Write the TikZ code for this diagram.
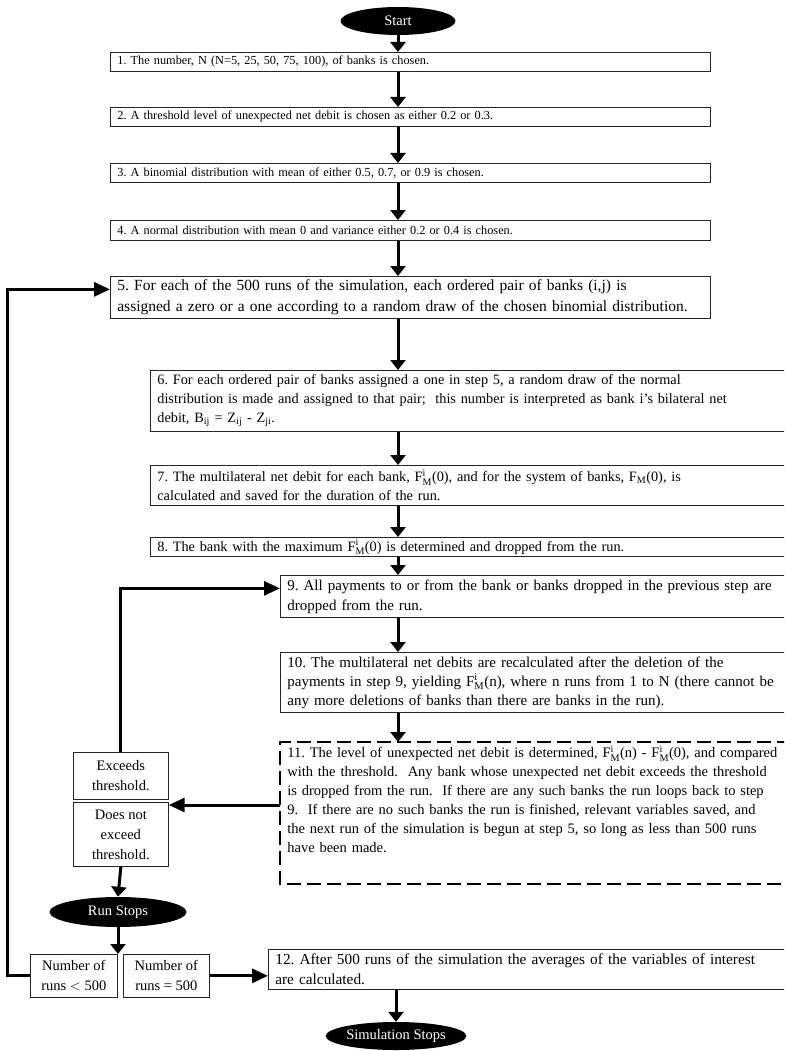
\documentclass[tikz,border=0pt]{standalone}
\usepackage{fontspec}
\setmainfont{Liberation Serif}
\usepackage{amsmath}
\usetikzlibrary{arrows.meta,calc,shapes.geometric}
\newcommand{\FMi}[1]{F$^{\text{i}}_{\text{M}}$(#1)}
\frenchspacing
\begin{document}
\begin{tikzpicture}[x=1pt,y=-1pt,
  box/.style={draw=black!85, line width=0.7pt, anchor=north west, inner xsep=7pt, inner ysep=2pt, align=left, font=\fontsize{14.3}{19}\selectfont},
  smallbox/.style={box, font=\fontsize{12.3}{14}\selectfont},
  sidebox/.style={draw=black!85, line width=0.7pt, anchor=north west, inner sep=1pt, align=center, font=\fontsize{14.5}{20}\selectfont},
  term/.style={ellipse, fill=black, text=white, inner sep=0pt, font=\fontsize{14.5}{16}\selectfont},
  arr/.style={line width=3pt, -{Triangle[width=15pt,length=10pt]}},
  looparr/.style={line width=3pt, -{Triangle[width=14pt,length=16pt]}},
  dashbox/.style={line width=1.2pt, dash pattern=on 14pt off 6pt}]
\useasboundingbox (0,0) rectangle (784,1051);
\clip (0,0) rectangle (784,1051);
\coordinate (ax) at (398,0);
% terminals
\node[term, minimum width=115pt, minimum height=28pt] (start) at (398,21) {Start};
\node[term, minimum width=137pt, minimum height=30pt] (rs) at (118,912) {Run Stops};
\node[term, minimum width=132pt, minimum height=28pt] (ss) at (396,1036) {Simulation Stops};
% main boxes
\node[smallbox, minimum width=600pt, minimum height=19pt, text width=586pt] (b1) at (110,52) {1. The number, N (N=5, 25, 50, 75, 100), of banks is chosen.};
\node[smallbox, minimum width=600pt, minimum height=19pt, text width=586pt] (b2) at (110,107) {2. A threshold level of unexpected net debit is chosen as either 0.2 or 0.3.};
\node[smallbox, minimum width=600pt, minimum height=19pt, text width=586pt] (b3) at (110,163) {3. A binomial distribution with mean of either 0.5, 0.7, or 0.9 is chosen.};
\node[smallbox, minimum width=600pt, minimum height=20pt, text width=586pt] (b4) at (110,220) {4. A normal distribution with mean 0 and variance either 0.2 or 0.4 is chosen.};
\node[box, minimum width=600pt, minimum height=42pt, text width=586pt, font=\fontsize{15.5}{21}\selectfont] (b5) at (110,276) {5. For each of the 500 runs of the simulation, each ordered pair of banks (i,j) is\\ assigned a zero or a one according to a random draw of the chosen binomial distribution.};
\node[box, minimum width=640pt, minimum height=61pt, text width=626pt] (b6) at (150,370) {6. For each ordered pair of banks assigned a one in step 5, a random draw of the normal\\ distribution is made and assigned to that pair;\ \ this number is interpreted as bank i's bilateral net\\ debit, B$_{\text{ij}}$ = Z$_{\text{ij}}$ - Z$_{\text{ji}}$.};
\node[box, minimum width=640pt, minimum height=40pt, text width=626pt] (b7) at (150,465) {7. The multilateral net debit for each bank, \FMi{0}, and for the system of banks, F$_{\text{M}}$(0), is\\ calculated and saved for the duration of the run.};
\node[box, minimum width=640pt, minimum height=19pt, text width=626pt] (b8) at (150,537) {8. The bank with the maximum \FMi{0} is determined and dropped from the run.};
\node[box, minimum width=510pt, minimum height=42pt, text width=496pt, font=\fontsize{15}{20}\selectfont] (b9) at (280,575) {9. All payments to or from the bank or banks dropped in the previous step are\\ dropped from the run.};
\node[box, minimum width=510pt, minimum height=60pt, text width=496pt, font=\fontsize{15}{19}\selectfont] (b10) at (280,652) {10. The multilateral net debits are recalculated after the deletion of the\\ payments in step 9, yielding \FMi{n}, where n runs from 1 to N (there cannot be\\ any more deletions of banks than there are banks in the run).};
\node[box, draw=none, inner ysep=3pt, minimum width=510pt, text width=496pt, font=\fontsize{14.5}{19}\selectfont] (b11) at (280,742) {11. The level of unexpected net debit is determined, \FMi{n} - \FMi{0}, and compared\\ with the threshold.\ \ Any bank whose unexpected net debit exceeds the threshold\\ is dropped from the run.\ \ If there are any such banks the run loops back to step\\ 9.\ \ If there are no such banks the run is finished, relevant variables saved, and\\ the next run of the simulation is begun at step 5, so long as less than 500 runs\\ have been made.};
\draw[dashbox] (b11.north east) -- (b11.north west) -- (b11.west |- 0,884) -- (b11.east |- 0,884);
\node[box, minimum width=522pt, minimum height=40pt, text width=508pt, font=\fontsize{15.3}{20}\selectfont] (b12) at (268,949) {12. After 500 runs of the simulation the averages of the variables of interest\\ are calculated.};
% side boxes
\node[sidebox, minimum width=95pt, minimum height=47pt] (ex) at (73,752) {Exceeds\\threshold.};
\node[sidebox, minimum width=95pt, minimum height=64pt] (dn) at (73,802) {Does not\\exceed\\threshold.};
\node[sidebox, minimum width=87pt, minimum height=43pt] (lt) at (30,954) {Number of\\runs $<$ 500};
\node[sidebox, minimum width=86pt, minimum height=43pt] (eq) at (123,954) {Number of\\runs = 500};
% main arrows
\draw[arr] (start.south) -- (b1.north -| ax);
\draw[arr] (b1.south -| ax) -- (b2.north -| ax);
\draw[arr] (b2.south -| ax) -- (b3.north -| ax);
\draw[arr] (b3.south -| ax) -- (b4.north -| ax);
\draw[arr] (b4.south -| ax) -- (b5.north -| ax);
\draw[arr] (b5.south -| ax) -- (b6.north -| ax);
\draw[arr] (b6.south -| ax) -- (b7.north -| ax);
\draw[arr] (b7.south -| ax) -- (b8.north -| ax);
\draw[arr] (b8.south -| ax) -- (b9.north -| ax);
\draw[arr] (b9.south -| ax) -- (b10.north -| ax);
\draw[arr] (b10.south -| ax) -- (b11.north -| ax);
\draw[arr] (b12.south -| ss.north) -- (ss.north);
\draw[arr] (dn.south) -- (rs.north);
\draw[arr] (rs.south) -- (rs.south |- lt.north);
% loops
\draw[looparr] (b11.west |- 0,805) -- (dn.east |- 0,805);
\draw[looparr] (ex.north) |- ([yshift=8pt]b9.west);
\draw[looparr] (lt.west) -- ++(-23,0) |- ([yshift=8pt]b5.west);
\draw[looparr] (eq.east) -- (b12.west |- eq.east);
\end{tikzpicture}
\end{document}
